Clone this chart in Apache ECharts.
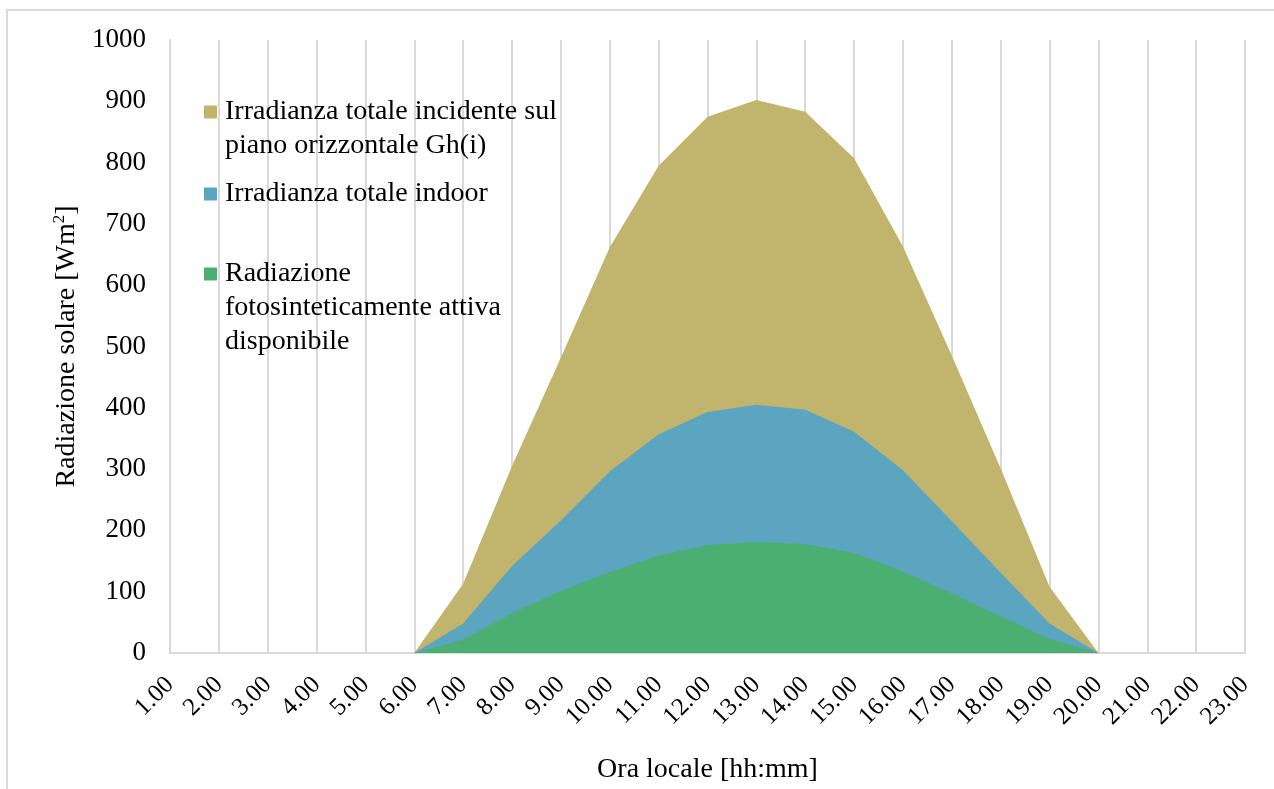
<!DOCTYPE html>
<html>
<head>
<meta charset="utf-8">
<script src="https://cdn.jsdelivr.net/npm/echarts@6/dist/echarts.min.js"></script>
<style>
  html, body { margin: 0; padding: 0; background: #ffffff; }
  #chart { width: 1274px; height: 789px; }
</style>
</head>
<body>
<div id="chart"></div>
<script>
// Hours of the day (local time)
const hours = ['1.00','2.00','3.00','4.00','5.00','6.00','7.00','8.00','9.00','10.00','11.00','12.00',
               '13.00','14.00','15.00','16.00','17.00','18.00','19.00','20.00','21.00','22.00','23.00'];

// Total irradiance on the horizontal plane Gh(i) [W/m2]
const ghTotal = [0,0,0,0,0,0,113,305,482,662,795,875,902,883,807,663,485,301,108,0,0,0,0];
// Total indoor irradiance [W/m2]
const indoorTotal = [0,0,0,0,0,0,48,142,216,296,357,393,405,397,361,298,215,131,48,0,0,0,0];
// Available photosynthetically active radiation [W/m2]
const parAvailable = [0,0,0,0,0,0,22,65,101,132,159,176,181,178,163,133,97,60,23,0,0,0,0];

const yTicks = { min: 0, max: 1000, interval: 100 };

const names = [
  'Irradianza totale incidente sul\npiano orizzontale Gh(i)',
  'Irradianza totale indoor',
  'Radiazione\nfotosinteticamente attiva\ndisponibile'
];
const colors = ['#C1B46C', '#5BA5C0', '#4CAF72'];

const FONT = '"Liberation Serif", "Times New Roman", serif';

const chart = echarts.init(document.getElementById('chart'));

function areaSeries(name, data, color) {
  return {
    name: name,
    type: 'line',
    data: data,
    symbol: 'none',
    lineStyle: { width: 0, color: color },
    itemStyle: { color: color },
    areaStyle: { color: color, opacity: 1 },
    emphasis: { disabled: true },
    silent: true
  };
}

// One legend block per series so that each entry sits at its own height,
// with the swatch aligned to the first text line.
function legendBlock(name, top, extraLinesAbove) {
  return {
    data: [name],
    left: 199,
    top: top,
    orient: 'vertical',
    icon: 'rect',
    itemWidth: 13,
    itemHeight: 13,
    selectedMode: false,
    formatter: function (n) { return '\n'.repeat(extraLinesAbove) + n; },
    textStyle: {
      fontFamily: FONT,
      fontSize: 28,
      color: '#000',
      lineHeight: 34,
      padding: [0, 0, 0, 3]
    }
  };
}

chart.setOption({
  animation: false,
  backgroundColor: '#ffffff',
  textStyle: { fontFamily: FONT },
  graphic: [{
    type: 'rect',
    shape: { x: 7, y: 10, width: 1300, height: 800 },
    style: { fill: 'none', stroke: '#d9d9d9', lineWidth: 2 },
    silent: true,
    z: -10
  }],
  grid: { left: 170, right: 29, top: 40, bottom: 136, containLabel: false },
  legend: [
    legendBlock(names[0], 56, 1),
    legendBlock(names[1], 172, 0),
    legendBlock(names[2], 184, 2)
  ],
  xAxis: {
    type: 'category',
    data: hours,
    boundaryGap: false,
    name: 'Ora locale [hh:mm]',
    nameLocation: 'middle',
    nameGap: 103,
    nameTextStyle: { fontFamily: FONT, fontSize: 28, color: '#000' },
    axisLine: { show: true, lineStyle: { color: '#d9d9d9', width: 2 } },
    axisTick: { show: false },
    axisLabel: {
      interval: 0,
      rotate: 45,
      fontFamily: FONT,
      fontSize: 25,
      color: '#000',
      margin: 28
    },
    splitLine: { show: true, lineStyle: { color: '#d9d9d9', width: 2 } }
  },
  yAxis: {
    type: 'value',
    min: yTicks.min,
    max: yTicks.max,
    interval: yTicks.interval,
    name: '{t|Radiazione solare [Wm}{sup|2}{t|]}',
    nameLocation: 'middle',
    nameGap: 85,
    nameRotate: 90,
    nameTextStyle: {
      fontFamily: FONT, fontSize: 28, color: '#000',
      rich: {
        t: { fontFamily: FONT, fontSize: 28, color: '#000', lineHeight: 32 },
        sup: { fontFamily: FONT, fontSize: 17, color: '#000', verticalAlign: 'top', lineHeight: 18 }
      }
    },
    axisLine: { show: true, lineStyle: { color: '#d9d9d9', width: 2 } },
    axisTick: { show: false },
    axisLabel: {
      fontFamily: FONT, fontSize: 27, color: '#000', margin: 24,
      formatter: function (v) { return String(v); }
    },
    splitLine: { show: false }
  },
  series: [
    areaSeries(names[0], ghTotal, colors[0]),
    areaSeries(names[1], indoorTotal, colors[1]),
    areaSeries(names[2], parAvailable, colors[2])
  ]
});
</script>
</body>
</html>
